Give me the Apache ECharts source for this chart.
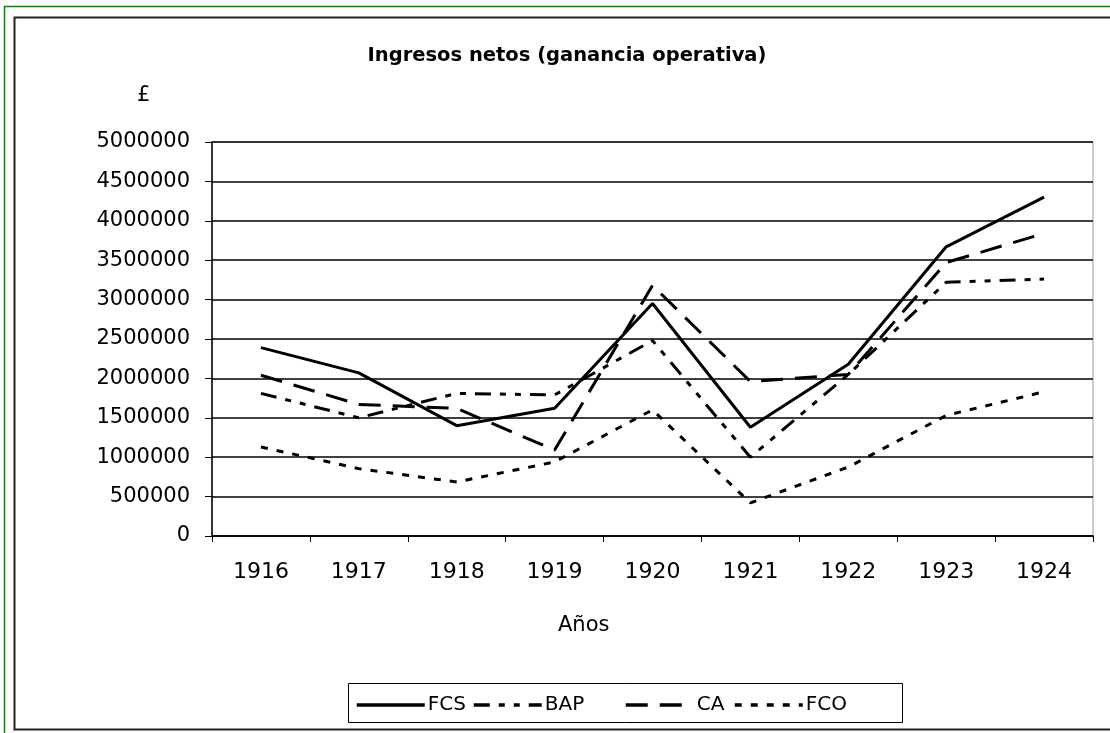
<!DOCTYPE html>
<html>
<head>
<meta charset="utf-8">
<script src="https://cdn.jsdelivr.net/npm/echarts@6/dist/echarts.min.js"></script>
<style>
  html, body { margin: 0; padding: 0; background: #fff; }
  #chart { width: 1110px; height: 733px; }
</style>
</head>
<body>
<div id="chart"></div>
<script>
// values
const years = ["1916", "1917", "1918", "1919", "1920", "1921", "1922", "1923", "1924"];
const fcs = [2390000, 2070000, 1400000, 1620000, 2950000, 1380000, 2180000, 3670000, 4300000];
const bap = [1810000, 1500000, 1810000, 1790000, 2480000, 1000000, 2050000, 3220000, 3260000];
const ca = [2040000, 1670000, 1620000, 1090000, 3180000, 1960000, 2050000, 3470000, 3840000];
const fco = [1130000, 855000, 685000, 940000, 1600000, 420000, 875000, 1530000, 1830000];
const names = ["FCS", "BAP", "CA", "FCO"];

const font = "'DejaVu Sans', 'Liberation Sans', sans-serif";
const dashes = ["solid", [16, 9, 6, 9, 6, 9], [22, 12], [7, 9]];
const legendLeft = [355, 472, 624, 733];

const chart = echarts.init(document.getElementById("chart"));

const mkLine = (name, data, dash) => ({
  name: name,
  type: "line",
  data: data,
  symbol: "none",
  showSymbol: false,
  lineStyle: { color: "#000", width: 3, type: dash },
  itemStyle: { color: "#000" },
});

// one legend per entry so the spacing can follow the picture
const legends = names.map((n, i) => ({
  left: legendLeft[i],
  top: 695,
  itemWidth: 68,
  itemHeight: 14,
  padding: 0,
  itemStyle: { opacity: 0 },
  lineStyle: { width: 3.5 },
  textStyle: { fontFamily: font, fontSize: 20, color: "#000", padding: [0, 0, 0, -2] },
  data: [n],
}));

const option = {
  backgroundColor: "#fff",
  animation: false,
  title: {
    text: "Ingresos netos (ganancia operativa)",
    left: 562,
    top: 41,
    textAlign: "center",
    textStyle: { fontFamily: font, fontWeight: "bold", fontSize: 19.5, color: "#000" },
  },
  graphic: [
    // outer frames
    { type: "rect", shape: { x: 4.5, y: 6.5, width: 1200, height: 800 }, style: { fill: null, stroke: "#1a7a1a", lineWidth: 1.5 }, silent: true },
    { type: "rect", shape: { x: 14.5, y: 17.5, width: 1200, height: 712 }, style: { fill: null, stroke: "#222", lineWidth: 2 }, silent: true },
    // legend frame
    { type: "rect", shape: { x: 348.5, y: 683.5, width: 554, height: 39 }, style: { fill: null, stroke: "#000", lineWidth: 1 }, silent: true },
    { type: "text", left: 137, top: 85, style: { text: "£", font: "21px " + font, fill: "#000" } },
    { type: "text", left: 558, top: 615, style: { text: "Años", font: "21px " + font, fill: "#000" } },
  ],
  legend: legends,
  grid: {
    left: 212,
    top: 142,
    right: 17,
    bottom: 197,
    show: true,
    borderColor: "#999",
    borderWidth: 1,
    containLabel: false,
  },
  xAxis: {
    type: "category",
    data: years,
    boundaryGap: true,
    axisLine: { lineStyle: { color: "#000", width: 1.5 } },
    axisTick: { show: true, length: 6, lineStyle: { color: "#000" } },
    axisLabel: { color: "#000", fontFamily: font, fontSize: 22, margin: 25 },
    splitLine: { show: false },
  },
  yAxis: {
    type: "value",
    min: 0,
    max: 5000000,
    interval: 500000,
    axisLine: { show: true, lineStyle: { color: "#000", width: 1.5 } },
    axisTick: { show: true, length: 7, lineStyle: { color: "#000" } },
    axisLabel: { color: "#000", fontFamily: font, fontSize: 21, margin: 22, formatter: (v) => String(v) },
    splitLine: { show: true, lineStyle: { color: "#000", width: 1.5 } },
  },
  series: [
    mkLine(names[0], fcs, dashes[0]),
    mkLine(names[1], bap, dashes[1]),
    mkLine(names[2], ca, dashes[2]),
    mkLine(names[3], fco, dashes[3]),
  ],
};

chart.setOption(option);
</script>
</body>
</html>
